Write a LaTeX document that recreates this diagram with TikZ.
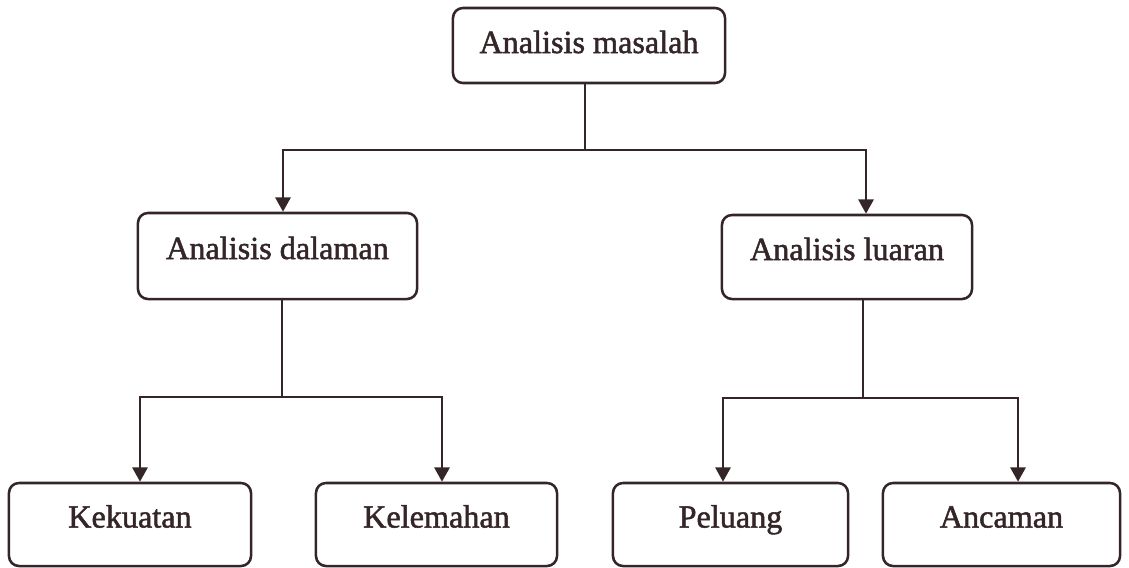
\documentclass[tikz,border=0pt]{standalone}
\usepackage{fontspec}
\setmainfont{Liberation Serif}
\newfontfamily\huruf{Liberation Serif}[FakeBold=1.6]
\usetikzlibrary{arrows.meta}
\usetikzlibrary{calc}
\definecolor{ink}{RGB}{52,38,40}

\begin{document}
\begin{tikzpicture}[x=0.025cm, y=-0.025cm,
    kotak/.style={draw=ink, line width=1.8pt, rounded corners=0.25cm, text=ink, inner sep=0pt,
      font=\huruf\fontsize{22.9pt}{27pt}\selectfont, text height=0.6cm, text depth=0.45cm},
    garis/.style={draw=ink, line width=1.8pt},
    panah/.style={garis, -{Triangle[width=0.38cm, length=0.36cm]}}]
  \useasboundingbox (0,0) rectangle (1129,567);
  \def\bawah{524.5}

  % kotak
  \node[kotak, minimum width=6.8cm, minimum height=1.875cm, text depth=0.225cm] (masalah) at (589,45.5) {Analisis masalah};
  \node[kotak, minimum width=6.975cm, minimum height=2.15cm] (dalaman) at (277.5,256) {Analisis dalaman};
  \node[kotak, minimum width=6.25cm, minimum height=2.1cm] (luaran) at (847,257) {Analisis luaran};
  \node[kotak, minimum width=6.05cm, minimum height=2.075cm] (kekuatan) at (130,\bawah) {Kekuatan};
  \node[kotak, minimum width=6.025cm, minimum height=2.075cm] (kelemahan) at (436.5,\bawah) {Kelemahan};
  \node[kotak, minimum width=5.875cm, minimum height=2.075cm] (peluang) at (730.5,\bawah) {Peluang};
  \node[kotak, minimum width=5.925cm, minimum height=2.075cm] (ancaman) at (1001.5,\bawah) {Ancaman};

  % cabang
  \coordinate (j0) at (585,150);
  \coordinate (j1) at (282,397);
  \coordinate (j2) at (863,398);

  \draw[garis] (masalah.south -| j0) -- (j0);
  \draw[panah] (j0) -| ($(dalaman.north)+(5.5,0)$);
  \draw[panah] (j0) -| ($(luaran.north)+(19,0)$);

  \draw[garis] (dalaman.south -| j1) -- (j1);
  \draw[panah] (j1) -| ($(kekuatan.north)+(10,0)$);
  \draw[panah] (j1) -| ($(kelemahan.north)+(5.5,0)$);

  \draw[garis] (luaran.south -| j2) -- (j2);
  \draw[panah] (j2) -| ($(peluang.north)+(-7.5,0)$);
  \draw[panah] (j2) -| ($(ancaman.north)+(16.5,0)$);
\end{tikzpicture}
\end{document}
